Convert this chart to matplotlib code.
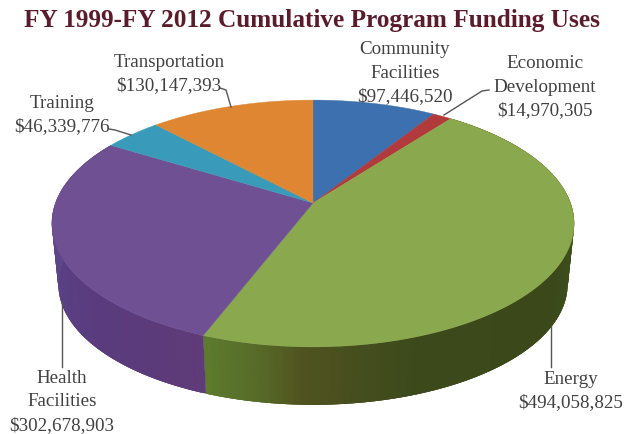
import numpy as np
import matplotlib
matplotlib.use("Agg")
import matplotlib.pyplot as plt
from matplotlib.colors import to_rgb

# Funding totals, clockwise from twelve o'clock
categories = ["Community\nFacilities", "Economic\nDevelopment", "Energy",
              "Health\nFacilities", "Training", "Transportation"]
values = [97446520, 14970305, 494058825, 302678903, 46339776, 130147393]
title = "FY 1999-FY 2012 Cumulative Program Funding Uses"

top_colors = ["#3c70ae", "#b13a3c", "#8aa84d", "#6f5092", "#3a9aba", "#df8632"]

# Side-wall shading: (clockwise angle in degrees, colour)
wall_shades = {
    2: [(37, "#3d4c1b"), (105, "#3f4e1c"), (125, "#3a481a"), (160, "#3c4a1b"),
        (172, "#464e1e"), (182, "#50531f"), (190, "#566a27"), (202, "#5e7d2e")],
    3: [(201, "#5f3b78"), (222, "#5a3b7c"), (245, "#5a3f82"), (262, "#5c4588"),
        (285, "#624b90")],
}

# Perspective disc: screen position of a clockwise angle on the rim
CX, CY, A, B, K = 313.0, 204.0, 257.5, 120.0, 0.166
DROP_Y, SHRINK = 61.5, 0.975


def rim(deg, scale=1.0, dy=0.0):
    t = np.radians(deg)
    u, v = np.sin(t), np.cos(t)
    w = 1 + K * v
    return CX + scale * A * u / w, CY + dy - scale * B * v / w


def shade(stops, deg):
    angles = [s[0] for s in stops]
    rgb = np.array([to_rgb(s[1]) for s in stops])
    return tuple(np.interp(deg, angles, rgb[:, i]) for i in range(3))


fig = plt.figure(figsize=(6.24, 4.35), dpi=100, facecolor="white")
ax = fig.add_axes([0, 0, 1, 1])
ax.set_xlim(0, 624)
ax.set_ylim(435, 0)
ax.axis("off")

edges = np.concatenate([[0], np.cumsum(values) / np.sum(values) * 360])

# Side wall: overlapping strips painted in order so no seams show
for idx, stops in wall_shades.items():
    start, stop = edges[idx], edges[idx + 1]
    for a0 in np.arange(start, stop, 0.5):
        a1 = min(a0 + 1.5, stop)
        xt0, yt0 = rim(a0)
        xt1, yt1 = rim(a1)
        xb0, yb0 = rim(a0, SHRINK, DROP_Y)
        xb1, yb1 = rim(a1, SHRINK, DROP_Y)
        c = shade(stops, a0 + 0.25)
        ax.fill([xt0, xt1, xb1, xb0], [yt0, yt1, yb1, yb0],
                facecolor=c, edgecolor="none", lw=0, zorder=1)

# Top face
for i, col in enumerate(top_colors):
    arc = np.linspace(edges[i], edges[i + 1], 120)
    xs, ys = rim(arc)
    ax.fill(np.r_[CX, xs], np.r_[CY, ys], color=col, lw=0.3, zorder=2)

# Leader lines
leader_color = "#555555"
leaders = [
    ([220, 226, 231], [89, 91, 108]),
    ([109, 115, 131], [130, 131, 136]),
    ([444, 482, 489], [116, 92, 91]),
    ([62, 62], [302, 368]),
    ([551, 551], [327, 368]),
]
for lx, ly in leaders:
    ax.plot(lx, ly, color=leader_color, lw=1.0, zorder=3)

# Slice labels
label_pos = [(405, 73), (545, 87), (571, 391), (62, 402), (62, 115), (169, 74)]
for name, val, (x, y) in zip(categories, values, label_pos):
    ax.text(x, y, f"{name}\n${val:,}", ha="center", va="center",
            family="Liberation Serif", fontsize=13.7, color="#404040",
            linespacing=1.47, zorder=4)

ax.text(312, 21, title, ha="center", va="center", family="Liberation Serif",
        fontweight="bold", fontsize=18.2, color="#5a1c2c", zorder=4)

fig.savefig("out.png", dpi=100, facecolor="white")
